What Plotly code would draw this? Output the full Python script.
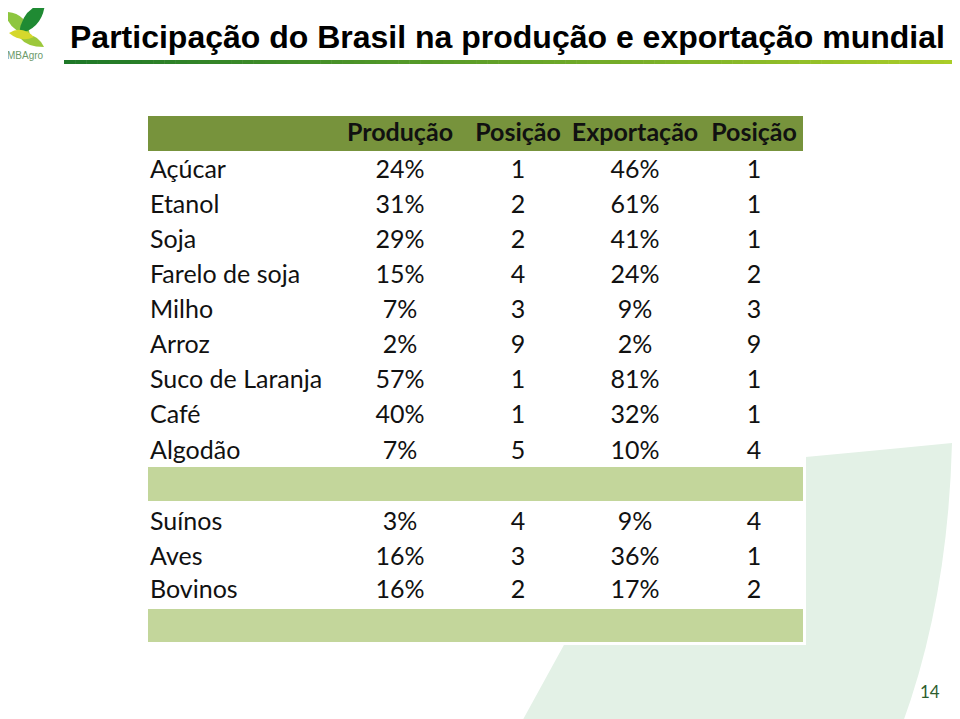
import plotly.graph_objects as go

# ===== data =====
produtos = ["Açúcar", "Etanol", "Soja", "Farelo de soja", "Milho", "Arroz",
            "Suco de Laranja", "Café", "Algodão"]
producao = [24, 31, 29, 15, 7, 2, 57, 40, 7]
posicao_prod = [1, 2, 2, 4, 3, 9, 1, 1, 5]
exportacao = [46, 61, 41, 24, 9, 2, 81, 32, 10]
posicao_exp = [1, 1, 1, 2, 3, 9, 1, 1, 4]

carnes = ["Suínos", "Aves", "Bovinos"]
producao_carnes = [3, 16, 16]
posicao_prod_carnes = [4, 3, 2]
exportacao_carnes = [9, 36, 17]
posicao_exp_carnes = [4, 1, 2]

colunas = ["Produção", "Posição", "Exportação", "Posição"]

# ===== layout constants (pixels) =====
W, H = 960, 719
OFF = 8  # page body margin
col_x = [400, 518, 635, 754]
label_x = 150
y_header = 135
y_rows = [171.5 + 35.1 * i for i in range(len(produtos))]
y_carnes = [523.5, 558.5, 591.5]
FONT = "Lato, Calibri, sans-serif"
TXT = "#111111"
FS = 25

fig = go.Figure()

# header
fig.add_trace(go.Scatter(
    x=col_x, y=[y_header] * len(colunas), mode="text",
    text=["<b>%s</b>" % c for c in colunas],
    textfont=dict(family=FONT, size=FS, color=TXT),
    textposition="middle center", hoverinfo="skip"))

# row labels
all_names = produtos + carnes
all_y = y_rows + y_carnes
fig.add_trace(go.Scatter(
    x=[label_x] * len(all_names), y=all_y, mode="text", text=all_names,
    textfont=dict(family=FONT, size=FS, color=TXT),
    textposition="middle right", hoverinfo="skip"))

cols = [
    ["%d%%" % v for v in producao + producao_carnes],
    [str(v) for v in posicao_prod + posicao_prod_carnes],
    ["%d%%" % v for v in exportacao + exportacao_carnes],
    [str(v) for v in posicao_exp + posicao_exp_carnes],
]
for cx, vals in zip(col_x, cols):
    fig.add_trace(go.Scatter(
        x=[cx] * len(vals), y=all_y, mode="text", text=vals,
        textfont=dict(family=FONT, size=FS, color=TXT),
        textposition="middle center", hoverinfo="skip"))

shapes = []
# pale green background blob
shapes.append(dict(type="path", layer="below",
                   path="M 520,725 L 660,470 Q 800,458 952,443 Q 948,600 902,725 Z",
                   fillcolor="#E3F1E6", line=dict(width=0)))
# table white background
shapes.append(dict(type="rect", layer="below", x0=148, x1=806, y0=116, y1=645,
                   fillcolor="white", line=dict(width=0)))
# bands
shapes.append(dict(type="rect", layer="below", x0=148, x1=803, y0=116, y1=151,
                   fillcolor="#77933C", line=dict(width=0)))
for y0, y1 in [(467, 501), (609, 642)]:
    shapes.append(dict(type="rect", layer="below", x0=148, x1=803, y0=y0, y1=y1,
                       fillcolor="#C3D69B", line=dict(width=0)))

# gradient line under title
n = 80
x0, x1 = 64, 955
c0, c1 = (30, 120, 40), (170, 205, 40)
for i in range(n):
    t = i / (n - 1)
    c = tuple(int(a + (b - a) * t) for a, b in zip(c0, c1))
    shapes.append(dict(type="rect", layer="below",
                       x0=x0 + (x1 - x0) * i / n, x1=x0 + (x1 - x0) * (i + 1) / n + 0.5,
                       y0=60, y1=64, fillcolor="rgb(%d,%d,%d)" % c, line=dict(width=0)))

# logo leaves
shapes += [
    dict(type="path", layer="below", path="M 5,12 Q 26,12 30,35 Q 9,32 5,12 Z",
         fillcolor="#8DC63F", line=dict(width=0)),
    dict(type="path", layer="below", path="M 19,34 Q 22,8 45,3 Q 43,28 19,34 Z",
         fillcolor="#1F8A33", line=dict(width=0)),
    dict(type="path", layer="below", path="M 20,38 Q 36,30 44,47 Q 27,47 20,38 Z",
         fillcolor="#9CC83A", line=dict(width=0)),
    dict(type="path", layer="below", path="M 9,33 Q 22,25 34,37 Q 21,43 9,33 Z",
         fillcolor="#D5D82C", line=dict(width=0)),
]

fig.update_layout(
    width=W, height=H,
    margin=dict(l=0, r=0, t=0, b=0),
    paper_bgcolor="white", plot_bgcolor="white",
    showlegend=False,
    xaxis=dict(range=[OFF, W + OFF], visible=False, fixedrange=True),
    yaxis=dict(range=[H + OFF, OFF], visible=False, fixedrange=True),
    shapes=shapes,
    annotations=[
        dict(x=68, y=37, xref="x", yref="y", xanchor="left", yanchor="middle",
             text="<b>Participação do Brasil na produção e exportação mundial</b>",
             showarrow=False,
             font=dict(family="Liberation Sans, Arial", size=32, color="#000000")),
        dict(x=25, y=55, xref="x", yref="y", text="MBAgro", showarrow=False,
             font=dict(family="Liberation Sans, Arial", size=10, color="#6C9A6A")),
        dict(x=930, y=691, xref="x", yref="y", text="14", showarrow=False,
             font=dict(family=FONT, size=17, color="#2E5E2E")),
    ],
)

fig.write_html("out.html")
